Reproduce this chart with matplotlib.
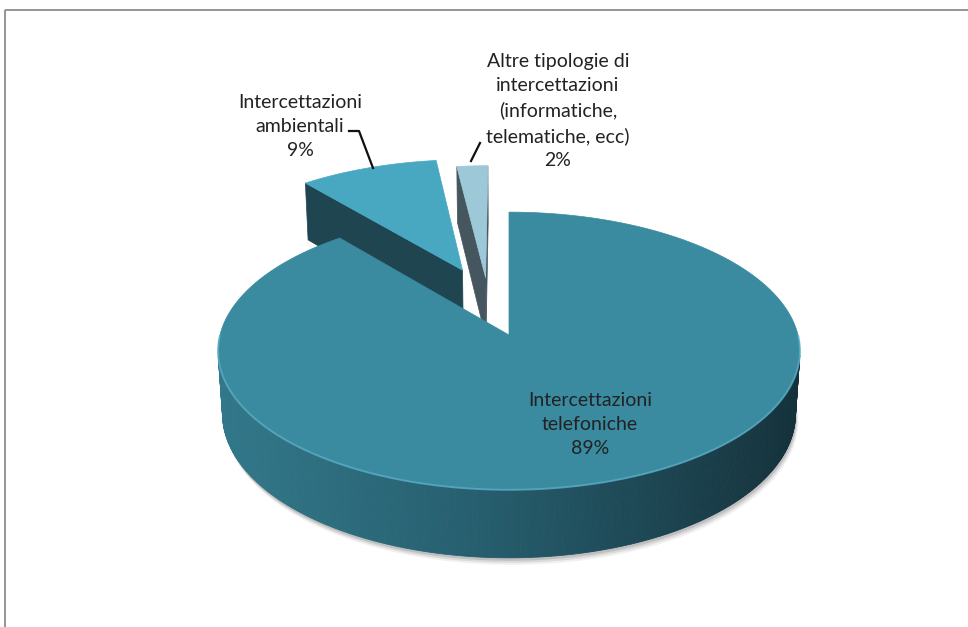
import numpy as np
import matplotlib.pyplot as plt
from matplotlib.patches import Polygon, Rectangle

labels = ["Intercettazioni\ntelefoniche",
          "Intercettazioni\nambientali",
          "Altre tipologie di\nintercettazioni\n(informatiche,\ntelematiche, ecc)"]
values = [89, 9, 2]
# exploded offsets of each slice centre (disc radius = 1)
offsets = [(0.0, 0.0), (-0.17, 0.50), (-0.085, 0.44)]
top_colors = ["#3a8aa0", "#48a8c2", "#9dc8d8"]
cut_colors = ["#2b6676", "#1e4550", "#46565f"]

# simple perspective camera for the 3d pie (pixel space)
CX, CY = 509, 335
S = 289
EL = np.radians(28.3)
D = 7.66
T = 0.25
CAM = np.array([0.0, -D * np.cos(EL), D * np.sin(EL)])


def proj(u, v, z):
    Y = v * np.sin(EL) + z * np.cos(EL)
    Zd = v * np.cos(EL) - z * np.sin(EL)
    f = D / (D + Zd)
    return CX + S * u * f, CY - S * Y * f


def facing(normal, point):
    return np.dot(normal, CAM - np.asarray(point)) > 0


def side_color(x):
    s = np.clip((x - 222) / (800 - 222), 0, 1)
    stops = np.array([[50, 120, 138], [38, 94, 110], [21, 50, 60]]) / 255
    if s < 0.45:
        return stops[0] + (stops[1] - stops[0]) * s / 0.45
    return stops[1] + (stops[2] - stops[1]) * (s - 0.45) / 0.55


fig = plt.figure(figsize=(9.68, 6.27), dpi=100)
ax = fig.add_axes([0, 0, 1, 1])
ax.set_xlim(0, 968)
ax.set_ylim(627, 0)
ax.axis("off")

ax.add_patch(Rectangle((5, 10), 980, 640, fill=False, ec="#8c8c8c", lw=1.3))

total = sum(values)
cum = np.concatenate([[0], np.cumsum(values)])
slices = []
for i, val in enumerate(values):
    t1 = 90 - 360 * cum[i] / total
    t2 = 90 - 360 * cum[i + 1] / total
    ox, oy = offsets[i]
    slices.append((i, t1, t2, ox, oy))

# soft shadow under the main disc
ts = np.radians(np.linspace(-200, 20, 120))
for k, off in enumerate([7, 5, 3]):
    bx, by = proj(np.cos(ts), np.sin(ts), -T)
    ax.add_patch(Polygon(np.c_[bx + off * 0.4, by + off], closed=True,
                         fc="#000000", ec="none", alpha=0.06 + 0.03 * k))

# soft shadow below the ambientali cut face
ox, oy = offsets[1]
a = np.radians(slices[1][1])
sx, sy = proj(np.array([ox + np.cos(a), ox + np.cos(a), ox]),
              np.array([oy + np.sin(a), oy + np.sin(a), oy]),
              np.array([-T, -T, -T]))
for k, off in enumerate([5, 3]):
    ax.add_patch(Polygon([(sx[0] - off, sy[0] + off * 0.6), (sx[0], sy[0] + off),
                          (sx[2], sy[2] + off)],
                         closed=True, fc="#000000", ec="none", alpha=0.07 + 0.03 * k))

# back slices first
for i, t1, t2, ox, oy in sorted(slices, key=lambda s: -s[4]):
    ts = np.radians(np.linspace(t2, t1, max(int((t1 - t2) * 2), 8)))
    ux, vy = ox + np.cos(ts), oy + np.sin(ts)
    tx, ty = proj(ux, vy, 0)
    bx, by = proj(ux, vy, -T)
    ax_, ay_ = proj(ox, oy, 0)
    abx, aby = proj(ox, oy, -T)

    # outer curved side
    for k in range(len(ts) - 1):
        tm = (ts[k] + ts[k + 1]) / 2
        n = np.array([np.cos(tm), np.sin(tm), 0])
        p = np.array([ox + np.cos(tm), oy + np.sin(tm), -T / 2])
        if not facing(n, p):
            continue
        quad = [(tx[k], ty[k]), (tx[k + 1], ty[k + 1]),
                (bx[k + 1], by[k + 1]), (bx[k], by[k])]
        c = side_color((tx[k] + tx[k + 1]) / 2)
        ax.add_patch(Polygon(quad, closed=True, fc=c, ec=c, lw=0.6))

    # radial cut faces
    for ang, sgn, idx in [(t1, 1, -1), (t2, -1, 0)]:
        a = np.radians(ang)
        na = a + sgn * np.pi / 2
        n = np.array([np.cos(na), np.sin(na), 0])
        p = np.array([ox + 0.5 * np.cos(a), oy + 0.5 * np.sin(a), -T / 2])
        if i > 0 and facing(n, p):
            quad = [(ax_, ay_), (tx[idx], ty[idx]), (bx[idx], by[idx]), (abx, aby)]
            ax.add_patch(Polygon(quad, closed=True, fc=cut_colors[i],
                                 ec=cut_colors[i], lw=0.5))

    # top face
    face = np.vstack([[ax_, ay_], np.c_[tx, ty]])
    ax.add_patch(Polygon(face, closed=True, fc=top_colors[i],
                         ec=top_colors[i], lw=0.5))
    # light rim along the front edge
    front = np.sin(ts) < 0
    if front.any():
        ax.plot(tx[front], ty[front], color="#5fb2c8", lw=1.4, alpha=0.7,
                solid_capstyle="round")

font = dict(family=["Lato", "DejaVu Sans"], fontsize=14, color="#222222",
            ha="center", va="center", linespacing=1.5)

ax.text(590, 425, f"{labels[0]}\n{values[0]}%", **font)
ax.text(300, 127, f"{labels[1]}\n{values[1]}%", **font)
ax.text(558, 111, f"{labels[2]}\n{values[2]}%", **font)

# leader lines
ax.plot([349, 359, 373], [131, 131, 168], color="#111111", lw=1.6)
ax.plot([480, 471], [143, 161], color="#111111", lw=1.6)

fig.savefig("out.png", dpi=100)
